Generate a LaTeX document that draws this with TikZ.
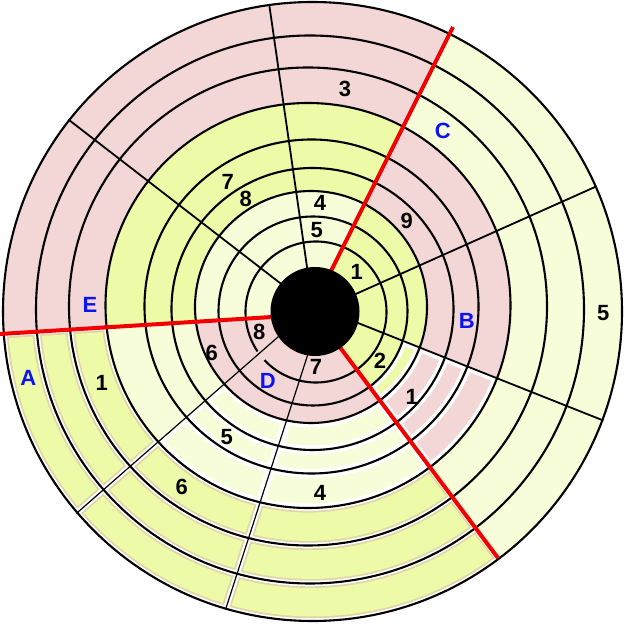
\documentclass[tikz,border=0pt]{standalone}
\usepackage{fontspec}
\setmainfont{Liberation Sans}
\usetikzlibrary{calc}
\definecolor{pk}{HTML}{F3D6D6}
\definecolor{gr}{HTML}{EDFBA9}
\definecolor{pl}{HTML}{F8FDD9}
\definecolor{bz}{HTML}{E2D5A8}
\definecolor{zb}{HTML}{0C12F2}
\definecolor{rd}{HTML}{F20000}
\expandafter\def\csname rr0\endcsname{44.5}
\expandafter\def\csname rr1\endcsname{70.5}
\expandafter\def\csname rr2\endcsname{94.5}
\expandafter\def\csname rr3\endcsname{116}
\expandafter\def\csname rr4\endcsname{141}
\expandafter\def\csname rr5\endcsname{167}
\expandafter\def\csname rr6\endcsname{202.5}
\expandafter\def\csname rr7\endcsname{239}
\expandafter\def\csname rr8\endcsname{274}
\expandafter\def\csname rr9\endcsname{309.5}
% #1 line i, #2 line j, #3 inner circle, #4 outer circle, #5 colour
\newcommand\cellfill[5]{%
  \begin{scope}
    \clip (I#1) -- (E#1) -- (E#2) -- (I#2) -- (O) -- cycle;
    \fill[#5, even odd rule] (C#4) circle[radius=\csname rr#4\endcsname] (C#3) circle[radius=\csname rr#3\endcsname];
  \end{scope}}
% #5 inset distance, #6 colour
\newcommand\insetfill[6]{%
  \begin{scope}
    \clip ($(I#1)!#5pt!90:(E#1)$) -- ($(E#1)!#5pt!-90:(I#1)$) -- ($(E#2)!#5pt!90:(I#2)$) -- ($(I#2)!#5pt!-90:(E#2)$) -- (O) -- cycle;
    \pgfmathsetmacro\myro{\csname rr#4\endcsname-#5}
    \pgfmathsetmacro\myri{\csname rr#3\endcsname+#5}
    \fill[#6, even odd rule] (C#4) circle[radius=\myro] (C#3) circle[radius=\myri];
  \end{scope}}
% #5 main colour, #6 border colour
\newcommand\blockfill[6]{%
  \cellfill{#1}{#2}{#3}{#4}{white}%
  \insetfill{#1}{#2}{#3}{#4}{2.8}{#6}%
  \insetfill{#1}{#2}{#3}{#4}{4.6}{#5}}
\begin{document}
\begin{tikzpicture}[x=1pt,y=1pt,
  lbl/.style={font=\fontsize{22}{22}\selectfont\bfseries, inner sep=0pt},
  zone/.style={lbl, text=zb},
  circ/.style={draw=black, line width=2.1pt},
  radl/.style={draw=black, line width=1.8pt},
  thinradl/.style={draw=black, line width=1.2pt},
  redl/.style={draw=rd, line width=4pt}]
\useasboundingbox (0,0) rectangle (625,640);
\fill[white] (0,0) rectangle (625,640);
% centre and circle centres
\coordinate (O) at (313,328);
\coordinate (C0) at (315,328.5);
\coordinate (C1) at (316,328);
\coordinate (C2) at (313,329);
\coordinate (C3) at (311,333);
\coordinate (C4) at (312.5,331);
\coordinate (C5) at (311.5,333.5);
\coordinate (C6) at (308,334.5);
\coordinate (C7) at (308,333.5);
\coordinate (C8) at (310,330.5);
\coordinate (C9) at (312.5,328.5);
% radial lines: inner point I, outer point Q, extension E
\coordinate (I1) at (358,347); \coordinate (Q1) at (595,453);
\coordinate (I2) at (333,373); \coordinate (Q2) at (453,613);
\coordinate (I3) at (307,373); \coordinate (Q3) at (269,637);
\coordinate (I4) at (280,357); \coordinate (Q4) at (69,520);
\coordinate (I5) at (272,323); \coordinate (Q5) at (0,306);
\coordinate (I6) at (278,303); \coordinate (Q6) at (78,128);
\coordinate (I7) at (307,283); \coordinate (Q7) at (227,35);
\coordinate (I8) at (342,290); \coordinate (Q8) at (498,82);
\coordinate (I9) at (358,317); \coordinate (Q9) at (602,220);
\foreach \k in {1,...,9}{\coordinate (E\k) at ($(I\k)!1.35!(Q\k)$);}
% sector fills
\cellfill{9}{1}{0}{3}{gr}\cellfill{9}{1}{3}{6}{pk}\cellfill{9}{1}{6}{9}{pl}
\cellfill{1}{2}{0}{3}{gr}\cellfill{1}{2}{3}{6}{pk}\cellfill{1}{2}{6}{9}{pl}
\cellfill{2}{3}{0}{3}{pl}\cellfill{2}{3}{3}{6}{gr}\cellfill{2}{3}{6}{9}{pk}
\cellfill{3}{4}{0}{3}{pl}\cellfill{3}{4}{3}{6}{gr}\cellfill{3}{4}{6}{9}{pk}
\cellfill{4}{5}{0}{3}{pl}\cellfill{4}{5}{3}{6}{gr}\cellfill{4}{5}{6}{9}{pk}
\cellfill{5}{6}{0}{3}{pk}\cellfill{5}{6}{3}{6}{pl}
\blockfill{5}{6}{6}{7}{gr}{bz}\blockfill{5}{6}{7}{8}{gr}{bz}\blockfill{5}{6}{8}{9}{gr}{bz}
\cellfill{6}{7}{0}{3}{pk}
\blockfill{6}{7}{3}{4}{pl}{white}\blockfill{6}{7}{4}{5}{pl}{white}\blockfill{6}{7}{5}{6}{pl}{white}
\blockfill{6}{7}{6}{7}{gr}{bz}\blockfill{6}{7}{7}{8}{gr}{bz}\blockfill{6}{7}{8}{9}{gr}{bz}
\cellfill{7}{8}{0}{3}{pk}
\blockfill{7}{8}{3}{4}{pl}{white}\blockfill{7}{8}{4}{5}{pl}{white}\blockfill{7}{8}{5}{6}{pl}{white}
\blockfill{7}{8}{6}{7}{gr}{bz}\blockfill{7}{8}{7}{8}{gr}{bz}\blockfill{7}{8}{8}{9}{gr}{bz}
\cellfill{8}{9}{0}{2}{gr}
\blockfill{8}{9}{2}{3}{gr}{white}
\blockfill{8}{9}{3}{4}{pk}{white}\blockfill{8}{9}{4}{5}{pk}{white}\blockfill{8}{9}{5}{6}{pk}{white}
\cellfill{8}{9}{6}{9}{pl}
% circles
\foreach \k in {2,...,9}{\draw[circ] (C\k) circle[radius=\csname rr\k\endcsname];}
\draw[circ] (C1) ++(223:70.5) arc[start angle=223, delta angle=351, radius=70.5];
% black radial lines
\begin{scope}
\clip (C9) circle[radius=310.5];
\foreach \k in {1,3,4,9}{\draw[radl] ($(I\k)!-0.12!(Q\k)$) -- ($(I\k)!1.05!(Q\k)$);}
\foreach \k in {6,7}{\draw[thinradl] ($(I\k)!-0.12!(Q\k)$) -- ($(I\k)!1.05!(Q\k)$);}
\end{scope}
% red lines
\foreach \k in {2,5,8}{\draw[redl] ($(I\k)!-0.1!(Q\k)$) -- (Q\k);}
% hub
\fill[black] (C0) circle[radius=44.5];
% labels
\node[lbl] (t3) at (345,550.7) {3};
\node[zone] (zC) at (442.7,509.3) {C};
\node[lbl] (t9) at (406.7,419.3) {9};
\node[lbl] (t4a) at (320,436.7) {4};
\node[lbl] (t5a) at (316.7,410) {5};
\node[lbl] (t1a) at (356.7,368.3) {1};
\node[lbl] (t5b) at (603.3,326.7) {5};
\node[zone] (zB) at (466.7,319) {B};
\node[lbl] (t7a) at (227.7,458.3) {7};
\node[lbl] (t8a) at (245.7,440.7) {8};
\node[zone] (zE) at (90,335) {E};
\node[zone] (zA) at (28.3,261.7) {A};
\node[lbl] (t1b) at (101.7,257.3) {1};
\node[lbl] (t6a) at (211.7,287.3) {6};
\node[lbl] (t8b) at (259.3,308.3) {8};
\node[zone] (zD) at (267.7,259.3) {D};
\node[lbl] (t7b) at (316,272.7) {7};
\node[lbl] (t5c) at (226.7,203.3) {5};
\node[lbl] (t6b) at (181.7,153.3) {6};
\node[lbl] (t4b) at (320,146.7) {4};
\node[lbl] (t2) at (380,279) {2};
\node[lbl] (t1c) at (411.7,243.3) {1};
\end{tikzpicture}
\end{document}
